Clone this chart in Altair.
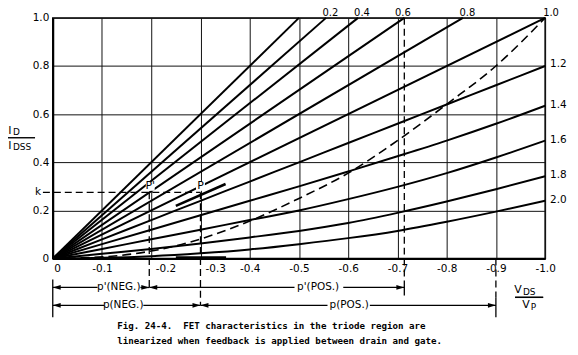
import altair as alt
import pandas as pd

FONT = "DejaVu Sans"
MONO = "DejaVu Sans Mono"

# ---------------- values ----------------
x_ticks = [0, -0.1, -0.2, -0.3, -0.4, -0.5, -0.6, -0.7, -0.8, -0.9, -1.0]
y_ticks = [0, 0.2, 0.4, 0.6, 0.8, 1.0]

# straight lines from the origin that end on the top edge (ID/IDSS = 1)
straight_labels = ["0", "0.2", "0.4", "0.6", "0.8", "1.0"]
straight_end_x = [-0.5, -0.555, -0.62, -0.714, -0.833, -1.0]
straight_end_y = [1.0, 1.0, 1.0, 1.0, 1.0, 1.0]

# curves that end on the right edge (VDS/VP = -1)
curve_labels = ["1.2", "1.4", "1.6", "1.8", "2.0"]
curve_x = [0, -0.1, -0.2, -0.3, -0.4, -0.5, -0.6, -0.7, -0.8, -0.9, -1.0]
curve_1_2 = [0, 0.08, 0.16, 0.24, 0.32, 0.40, 0.48, 0.56, 0.64, 0.72, 0.80]
curve_1_4 = [0, 0.06, 0.12, 0.18, 0.24, 0.30, 0.362, 0.425, 0.49, 0.56, 0.635]
curve_1_6 = [0, 0.04, 0.08, 0.12, 0.16, 0.20, 0.247, 0.298, 0.355, 0.42, 0.49]
curve_1_8 = [0, 0.02, 0.04, 0.063, 0.088, 0.115, 0.148, 0.19, 0.237, 0.288, 0.342]
curve_2_0 = [0, 0.003, 0.01, 0.022, 0.038, 0.06, 0.085, 0.115, 0.153, 0.195, 0.24]

# dashed characteristic
dashed_x = [0, -0.12, -0.24, -0.4, -0.5, -0.6, -0.7, -0.8, -0.9, -1.0]
dashed_y = [0, 0.01, 0.048, 0.156, 0.25, 0.355, 0.49, 0.641, 0.80, 1.0]

# construction points
k_level = 0.275
p_prime_x = -0.196
p_x = -0.3
p_prime_pos_x = -0.714
p_pos_x = -0.9

# ---------------- tables ----------------
fan_rows = []
for lab, ex, ey in zip(straight_labels, straight_end_x, straight_end_y):
    fan_rows.append({"series": lab, "x": 0.0, "y": 0.0, "o": 0})
    fan_rows.append({"series": lab, "x": ex, "y": ey, "o": 1})
for lab, ys in zip(curve_labels, [curve_1_2, curve_1_4, curve_1_6, curve_1_8, curve_2_0]):
    for i, (xv, yv) in enumerate(zip(curve_x, ys)):
        fan_rows.append({"series": lab, "x": xv, "y": yv, "o": i})
fan = pd.DataFrame(fan_rows)

dashed = pd.DataFrame({"x": dashed_x, "y": dashed_y, "o": list(range(len(dashed_x)))})

xs = alt.Scale(domain=[0, -1.0], nice=False, zero=False)
ys_ = alt.Scale(domain=[0, 1.0], nice=False, zero=False)

x_axis = alt.Axis(
    values=x_ticks, grid=True, gridColor="#111", gridWidth=1, gridOpacity=1,
    domain=True, domainColor="black", domainWidth=2, ticks=False,
    labelExpr="(abs(datum.value) < 0.001 || abs(datum.value + 0.2) < 0.001 || abs(datum.value + 0.3) < 0.001) ? '' : '-' + format(abs(datum.value), '.1f')",
    labelFont=FONT, labelFontSize=10.5, labelColor="black", labelPadding=5,
    labelFlush=False, labelOverlap=False, title=None,
)
y_axis = alt.Axis(
    values=y_ticks, grid=True, gridColor="#111", gridWidth=1, gridOpacity=1,
    domain=True, domainColor="black", domainWidth=2, ticks=False,
    labelExpr="datum.value == 0 ? '0' : format(datum.value, '.1f')",
    labelFont=FONT, labelFontSize=10.5, labelColor="black", labelPadding=4,
    labelFlush=False, labelOverlap=False, title=None,
)


def X(f="x"):
    return alt.X(f, type="quantitative", scale=xs, axis=x_axis)


def Y(f="y"):
    return alt.Y(f, type="quantitative", scale=ys_, axis=y_axis)


fan_layer = alt.Chart(fan).mark_line(color="black", strokeWidth=2, interpolate="monotone").encode(
    x=X(), y=Y(), detail="series:N", order="o:Q",
)

dashed_layer = alt.Chart(dashed).mark_line(
    color="black", strokeWidth=1.6, strokeDash=[9, 5], interpolate="monotone"
).encode(x=X(), y=Y(), order="o:Q")

# dashed construction rules
dash_rules = pd.DataFrame({
    "x": [0.02, p_prime_pos_x, p_prime_x, p_x, p_pos_x],
    "x2": [p_x, p_prime_pos_x, p_prime_x, p_x, p_pos_x],
    "y": [k_level, 1.0, k_level, k_level, 0.0],
    "y2": [k_level, -0.091, -0.120, -0.194, -0.161],
})
dash_layer = alt.Chart(dash_rules).mark_rule(color="black", strokeWidth=1.3, strokeDash=[7, 4]).encode(
    x=X(), x2="x2:Q", y=Y(), y2="y2:Q"
)

# dimension lines (solid) and end bars
solid_rules = pd.DataFrame({
    "x": [0.0, -0.178, -0.196, -0.590, 0.0, -0.184, -0.300, -0.644,
          0.0, p_prime_pos_x, p_pos_x, -0.939],
    "x2": [-0.091, -0.196, -0.491, p_prime_pos_x, -0.105, -0.300, -0.558, p_pos_x,
           0.0, p_prime_pos_x, p_pos_x, -0.996],
    "y": [-0.120, -0.120, -0.120, -0.120, -0.194, -0.194, -0.194, -0.194,
          -0.087, -0.091, -0.161, -0.161],
    "y2": [-0.120, -0.120, -0.120, -0.120, -0.194, -0.194, -0.194, -0.194,
           -0.244, -0.153, -0.244, -0.161],
})
solid_layer = alt.Chart(solid_rules).mark_rule(color="black", strokeWidth=1.3).encode(
    x=X(), x2="x2:Q", y=Y(), y2="y2:Q"
)

# thick marks near P and on the axis
thick = pd.DataFrame({"x": [-0.25, -0.25], "x2": [-0.351, -0.352], "y": [0.219, 0.004], "y2": [0.310, 0.004]})
thick_layer = alt.Chart(thick).mark_rule(color="black", strokeWidth=2.6).encode(
    x=X(), x2="x2:Q", y=Y(), y2="y2:Q"
)

# arrowheads
left_heads = pd.DataFrame({"x": [0.0, p_prime_x, 0.0, p_x], "y": [-0.120, -0.120, -0.194, -0.194]})
right_heads = pd.DataFrame({"x": [p_prime_x, p_prime_pos_x, p_x, p_pos_x], "y": [-0.120, -0.120, -0.194, -0.194]})
lh = alt.Chart(left_heads).mark_point(shape="M0,0L2,-0.6L2,0.6Z", size=64, filled=True, color="black", opacity=1).encode(x=X(), y=Y())
rh = alt.Chart(right_heads).mark_point(shape="M0,0L-2,-0.6L-2,0.6Z", size=64, filled=True, color="black", opacity=1).encode(x=X(), y=Y())

# white patches behind the P' and P labels
pt_labels = pd.DataFrame({"x": [-0.198, -0.300], "y": [0.300, 0.300], "t": ["P'", "P"]})
patch_layer = alt.Chart(pt_labels).mark_point(
    shape="square", size=80, filled=True, color="white", opacity=1
).encode(x=X(), y=Y())


def texts(df, **kw):
    base = dict(font=FONT, fontSize=10.5, color="black", baseline="middle", align="center")
    base.update(kw)
    return alt.Chart(df).mark_text(**base).encode(x=X(), y=Y(), text="t:N")


top_lab = texts(pd.DataFrame({"x": [-0.564, -0.628, -0.711, -0.842, -1.012], "y": [1.0062] * 5,
                              "t": ["0.2", "0.4", "0.6", "0.8", "1.0"]}), baseline="alphabetic", fontSize=10)
right_lab = texts(pd.DataFrame({"x": [-1.010] * 5, "y": [0.810, 0.640, 0.492, 0.347, 0.244],
                                "t": curve_labels}), align="left")
pt_lab = texts(pt_labels, fontSize=11)
misc_lab = texts(pd.DataFrame({
    "x": [0.030, -0.010, -0.230, -0.331],
    "y": [k_level, -0.045, -0.045, -0.045],
    "t": ["k", "0", "-0.2", "-0.3"],
}))
dim_lab = texts(pd.DataFrame({
    "x": [-0.134, -0.539, -0.143, -0.602],
    "y": [-0.120, -0.120, -0.194, -0.194],
    "t": ["p'(NEG.)", "p'(POS.)", "p(NEG.)", "p(POS.)"],
}))

big_letters = texts(pd.DataFrame({
    "x": [0.087, 0.087, -0.945, -0.961],
    "y": [0.529, 0.467, -0.132, -0.194],
    "t": ["I", "I", "V", "V"],
}), fontSize=11)
small_letters = texts(pd.DataFrame({
    "x": [0.081, 0.081, -0.955, -0.971],
    "y": [0.524, 0.462, -0.138, -0.200],
    "t": ["D", "DSS", "DS", "P"],
}), fontSize=9, align="left")
frac_bars = pd.DataFrame({"x": [0.097, -0.939], "x2": [0.036, -0.996], "y": [0.502, -0.161], "y2": [0.502, -0.161]})
frac_layer = alt.Chart(frac_bars).mark_rule(color="black", strokeWidth=1.4).encode(
    x=X(), x2="x2:Q", y=Y(), y2="y2:Q"
)

caption = texts(pd.DataFrame({
    "x": [-0.131, -0.131],
    "y": [-0.281, -0.343],
    "t": ["Fig. 24-4.\u00a0 FET characteristics in the triode region are",
          "linearized when feedback is applied between drain and gate."],
}), font=MONO, fontSize=9.2, fontWeight="bold", align="left")

chart = alt.layer(
    fan_layer, dashed_layer, dash_layer, solid_layer, thick_layer, lh, rh, patch_layer,
    top_lab, right_lab, pt_lab, misc_lab, dim_lab, big_letters, small_letters, frac_layer, caption,
).properties(
    width=495, height=242,
    autosize=alt.AutoSizeParams(type="none"),
    padding={"left": 45, "top": 9, "right": 25, "bottom": 96},
    background="white",
).configure_view(stroke="black", strokeWidth=1.5)

chart.save("out.html", embed_options={"renderer": "svg", "actions": False})
